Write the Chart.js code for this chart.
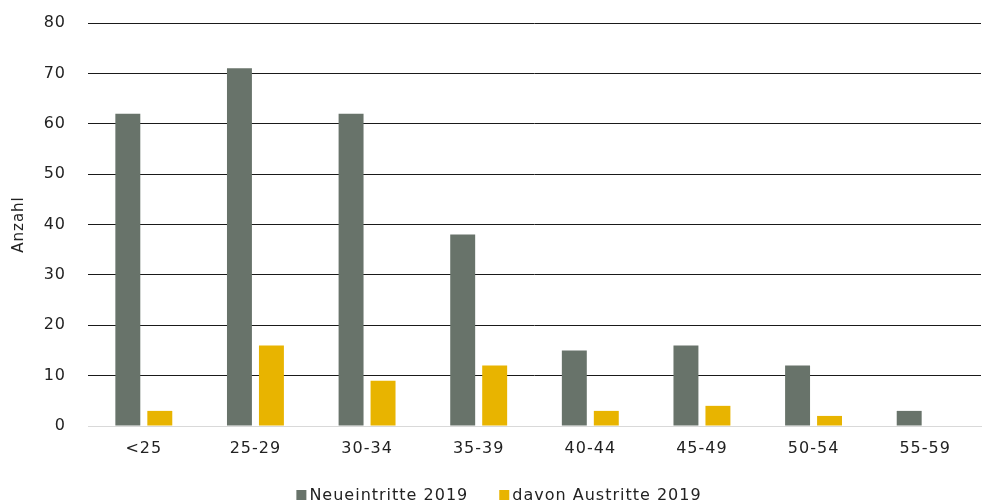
<!DOCTYPE html>
<html>
<head>
<meta charset="utf-8">
<script src="https://cdn.jsdelivr.net/npm/chart.js@4/dist/chart.umd.min.js"></script>
<style>
  html, body { margin: 0; padding: 0; background: #fff; }
  #wrap { width: 982px; height: 501px; }
</style>
</head>
<body>
<div id="wrap"><canvas id="c" width="982" height="501"></canvas></div>
<script>
// Altersgruppen
const categories = ['<25', '25-29', '30-34', '35-39', '40-44', '45-49', '50-54', '55-59'];
// Neueintritte 2019
const neueintritte = [62, 71, 62, 38, 15, 16, 12, 3];
// davon Austritte 2019
const austritte = [3, 16, 9, 12, 3, 4, 2, 0];
const yTicks = [0, 10, 20, 30, 40, 50, 60, 70, 80];

const font = "'DejaVu Sans', Verdana, sans-serif";

// slightly wider letter spacing for all chart text
const spacing = {
  id: 'spacing',
  beforeUpdate(chart) { chart.ctx.letterSpacing = '1px'; },
  beforeLayout(chart) { chart.ctx.letterSpacing = '1px'; },
  beforeDraw(chart) { chart.ctx.letterSpacing = '1px'; }
};

// compact legend below the x axis: small square swatch, tight gap to the text
const bottomLegend = {
  id: 'bottomLegend',
  afterDraw(chart) {
    const ctx = chart.ctx;
    const box = 10, gap = 3, itemGap = 31, baseline = 500;
    ctx.save();
    ctx.letterSpacing = '1px';
    ctx.font = `16px ${font}`;
    ctx.textBaseline = 'alphabetic';
    ctx.textAlign = 'left';
    const items = chart.data.datasets.map(ds => ({
      text: ds.label,
      color: ds.backgroundColor,
      w: ctx.measureText(ds.label).width
    }));
    const total = items.reduce((s, it) => s + box + gap + it.w, 0) + itemGap * (items.length - 1);
    let x = chart.width / 2 + 8 - total / 2;
    items.forEach(it => {
      ctx.fillStyle = it.color;
      ctx.fillRect(x, baseline - box, box, box);
      x += box + gap;
      ctx.fillStyle = '#222';
      ctx.fillText(it.text, x, baseline);
      x += it.w + itemGap;
    });
    ctx.restore();
  }
};

new Chart(document.getElementById('c'), {
  type: 'bar',
  data: {
    labels: categories,
    datasets: [
      {
        label: 'Neueintritte 2019',
        data: neueintritte,
        backgroundColor: '#68736a',
        borderWidth: 0
      },
      {
        label: 'davon Austritte 2019',
        data: austritte,
        backgroundColor: '#e8b400',
        borderWidth: 0
      }
    ]
  },
  plugins: [spacing, bottomLegend],
  options: {
    responsive: false,
    animation: false,
    layout: { padding: { top: 23, right: 1, left: 10, bottom: 44 } },
    datasets: {
      bar: { categoryPercentage: 0.573, barPercentage: 0.78 }
    },
    scales: {
      x: {
        grid: { display: false, drawTicks: false },
        border: { display: true, color: '#d9d9d9', width: 1 },
        afterFit: (axis) => { axis.height = 31; },
        ticks: {
          color: '#222',
          font: { family: font, size: 16 },
          padding: 13
        }
      },
      y: {
        min: 0,
        max: 80,
        afterBuildTicks: (axis) => { axis.ticks = yTicks.map(v => ({ value: v })); },
        afterFit: (axis) => {
          axis.width = 78;
          axis.paddingTop = 0;
          axis.paddingBottom = 0;
        },
        grid: {
          drawTicks: false,
          color: (ctx) => ctx.tick && ctx.tick.value === 0 ? '#d9d9d9' : '#1a1a1a',
          lineWidth: 1
        },
        border: { display: false },
        ticks: {
          color: '#222',
          font: { family: font, size: 16 },
          padding: 22
        },
        title: {
          display: true,
          text: 'Anzahl',
          color: '#222',
          font: { family: font, size: 15 },
          padding: { top: 0, bottom: 14 }
        }
      }
    },
    plugins: {
      legend: { display: false },
      tooltip: { enabled: false }
    }
  }
});
</script>
</body>
</html>
